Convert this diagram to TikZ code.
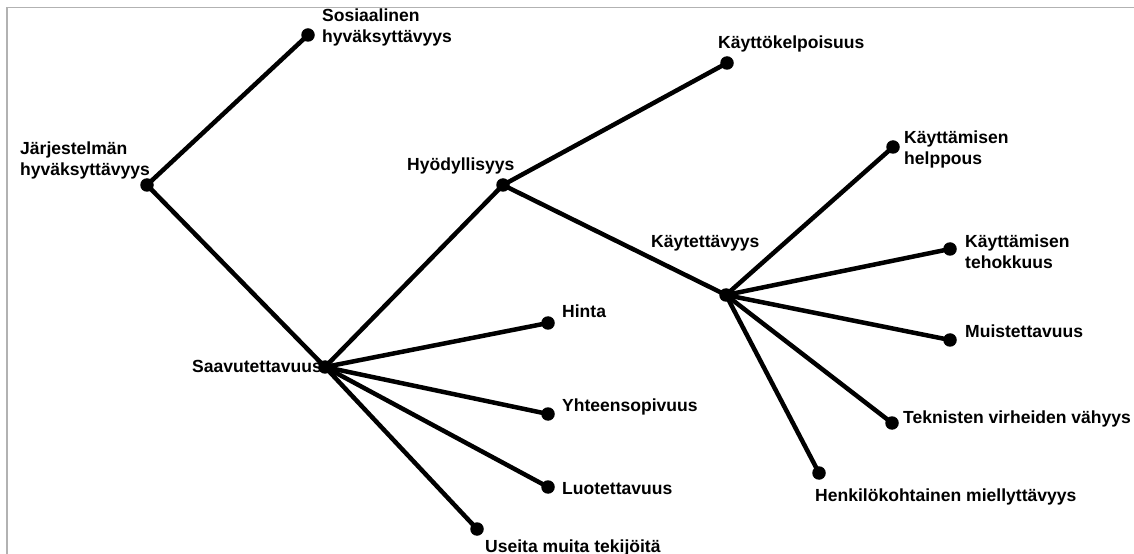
\documentclass[tikz,border=0pt]{standalone}
\usepackage{fontspec}
\setmainfont{Liberation Sans}
\begin{document}
\begin{tikzpicture}[x=1bp,y=-1bp,
  dot/.style={circle,fill=black,inner sep=0pt,minimum size=13.5bp},
  link/.style={line width=4.5bp,line cap=round},
  lbl/.style={anchor=base west,inner sep=0pt,align=left,
    font=\fontsize{17.6}{22}\selectfont\bfseries},
  frameline/.style={draw=black!30,line width=1.5bp}]
\useasboundingbox (0,0) rectangle (1134,554);
% partial frame along the top and left
\draw[frameline] (7,554) -- (7,7.5) -- (1134,7.5);

% tree nodes
\node[dot] (jar) at (147,185) {};
\node[dot] (sos) at (308,35) {};
\node[dot] (saa) at (325,367) {};
\node[dot] (hyo) at (503,185) {};
\node[dot] (kkp) at (727,63) {};
\node[dot] (kyt) at (726,295) {};
\node[dot] (hin) at (548,323) {};
\node[dot] (yht) at (548,414) {};
\node[dot] (luo) at (548,487) {};
\node[dot] (use) at (477,529) {};
\node[dot] (hel) at (893,147) {};
\node[dot] (teh) at (950,249) {};
\node[dot] (mui) at (950,340) {};
\node[dot] (tek) at (892,423) {};
\node[dot] (hen) at (819,473) {};

% branches
\draw[link] (jar.center) -- (sos.center);
\draw[link] (jar.center) -- (saa.center);
\draw[link] (saa.center) -- (hyo.center);
\draw[link] (saa.center) -- (hin.center);
\draw[link] (saa.center) -- (yht.center);
\draw[link] (saa.center) -- (luo.center);
\draw[link] (saa.center) -- (use.center);
\draw[link] (hyo.center) -- (kkp.center);
\draw[link] (hyo.center) -- (kyt.center);
\draw[link] (kyt.center) -- (hel.center);
\draw[link] (kyt.center) -- (teh.center);
\draw[link] (kyt.center) -- (mui.center);
\draw[link] (kyt.center) -- (tek.center);
\draw[link] (kyt.center) -- (hen.center);

% labels (multi-line labels are placed by the baseline of their last line)
\node[lbl] (tjar) at (20,176) {Järjestelmän\\hyväksyttävyys};
\node[lbl] (tsos) at (322,43) {Sosiaalinen\\hyväksyttävyys};
\node[lbl,anchor=base east] (tsaa) at (322,373) {Saavutettavuus};
\node[lbl] (thyo) at (407,171) {Hyödyllisyys};
\node[lbl] (tkkp) at (718,49) {Käyttökelpoisuus};
\node[lbl] (tkyt) at (651,248) {Käytettävyys};
\node[lbl] (thin) at (562,318) {Hinta};
\node[lbl] (tyht) at (562,411) {Yhteensopivuus};
\node[lbl] (tluo) at (562,494) {Luotettavuus};
\node[lbl] (tuse) at (485,552) {Useita muita tekijöitä};
\node[lbl] (thel) at (904,165) {Käyttämisen\\helppous};
\node[lbl] (tteh) at (965,269) {Käyttämisen\\tehokkuus};
\node[lbl] (tmui) at (965,338) {Muistettavuus};
\node[lbl] (ttek) at (903,423) {Teknisten virheiden vähyys};
\node[lbl] (then) at (815,501) {Henkilökohtainen miellyttävyys};
\end{tikzpicture}
\end{document}
